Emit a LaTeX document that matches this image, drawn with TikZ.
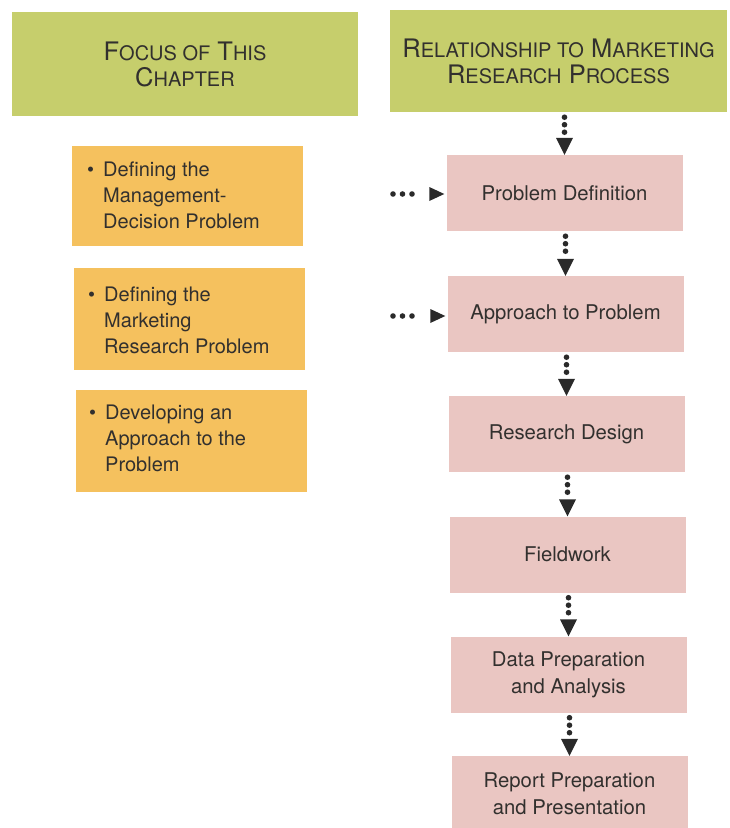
\documentclass[tikz,border=0pt]{standalone}
\usepackage{fontspec}
\setmainfont{TeX Gyre Heros}
\usetikzlibrary{arrows.meta}
\definecolor{hdrgreen}{RGB}{198,206,108}
\definecolor{focusorange}{RGB}{245,193,94}
\definecolor{procpink}{RGB}{234,198,194}
\definecolor{txtgray}{RGB}{50,48,46}
\definecolor{arrgray}{RGB}{42,42,42}
\newcommand\smc[1]{{\fontsize{20}{26}\selectfont #1}}
\begin{document}
\begin{tikzpicture}[x=1pt,y=-1pt,
  hdr/.style={fill=hdrgreen, inner sep=0pt, align=center, text=txtgray,
    font=\fontsize{25.5}{26}\selectfont},
  focusbox/.style={fill=focusorange, inner sep=0pt, minimum width=231pt},
  focustext/.style={inner sep=0pt, anchor=west, text=txtgray,
    font=\fontsize{20}{26}\selectfont},
  proc/.style={fill=procpink, inner sep=0pt, align=center, text=txtgray,
    minimum width=236pt, minimum height=76pt,
    font=\fontsize{20.3}{27}\selectfont},
  vconn/.style={draw=arrgray, line width=5.6pt, line cap=round,
    dash pattern=on 0pt off 7.5pt on 0pt off 7.5pt on 0pt off 80pt,
    shorten <=5pt,
    -{Triangle[width=17pt,length=17pt,line width=0pt,fill=arrgray]}},
  hconn/.style={draw=arrgray, line width=5.6pt, line cap=round,
    dash pattern=on 0pt off 9.5pt on 0pt off 9.5pt on 0pt off 80pt,
    shorten >=2pt,
    -{Triangle[width=14pt,length=15pt,line width=0pt,fill=arrgray]}}
]
\clip (0,0) rectangle (729,828);

% headers
\node[hdr, minimum width=346pt, minimum height=104pt] (h1) at (185,64)
  {F\smc{OCUS OF} T\smc{HIS}\\C\smc{HAPTER}};
\node[hdr, minimum width=337pt, minimum height=102pt] (h2) at (558.5,61)
  {R\smc{ELATIONSHIP TO} M\smc{ARKETING}\\R\smc{ESEARCH} P\smc{ROCESS}};

% focus boxes
\node[focusbox, minimum height=100pt] (f1) at (187.5,196) {};
\node[focustext] (f1t) at (87,197)
  {\begin{tabular}{@{}l@{\hspace{9pt}}l@{}}\textbullet & Defining the\\ & Management-\\ & Decision Problem\end{tabular}};
\node[focusbox, minimum height=102pt] (f2) at (189,319) {};
\node[focustext] (f2t) at (88,322)
  {\begin{tabular}{@{}l@{\hspace{9pt}}l@{}}\textbullet & Defining the\\ & Marketing\\ & Research Problem\end{tabular}};
\node[focusbox, minimum height=102pt] (f3) at (191,441) {};
\node[focustext] (f3t) at (89,440)
  {\begin{tabular}{@{}l@{\hspace{9pt}}l@{}}\textbullet & Developing an\\ & Approach to the\\ & Problem\end{tabular}};

% process boxes
\node[proc] (pd) at (564.5,193) {Problem Definition};
\node[proc] (ap) at (565.5,314) {Approach to Problem};
\node[proc] (rd) at (566.5,434) {Research Design};
\node[proc] (fw) at (567.5,554.5) {Fieldwork};
\node[proc] (dp) at (568.5,674.5) {Data Preparation\\and Analysis};
\node[proc] (rp) at (569.5,794) {Report Preparation\\and Presentation};

% vertical connectors
\draw[vconn] (pd.north |- h2.south) -- (pd.north);
\draw[vconn] (ap.north |- pd.south) -- (ap.north);
\draw[vconn] (rd.north |- ap.south) -- (rd.north);
\draw[vconn] (fw.north |- rd.south) -- (fw.north);
\draw[vconn] (dp.north |- fw.south) -- (dp.north);
\draw[vconn] (rp.north |- dp.south) -- (rp.north);

% horizontal connectors
\coordinate (in1) at (393,194);
\coordinate (in2) at (393,316);
\draw[hconn] (in1) -- (in1 -| pd.west);
\draw[hconn] (in2) -- (in2 -| ap.west);
\end{tikzpicture}
\end{document}
